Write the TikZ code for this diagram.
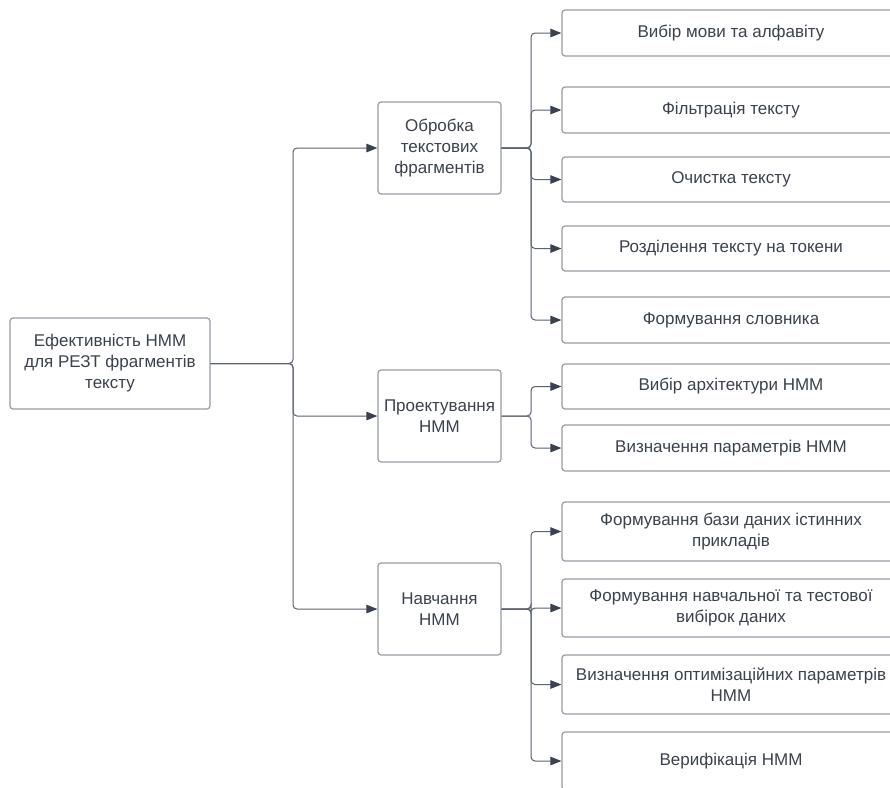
\documentclass[tikz,border=0pt]{standalone}
\usepackage{fontspec}
\setmainfont{Liberation Sans}
\usetikzlibrary{arrows.meta}
\definecolor{txt}{HTML}{3B424E}
\definecolor{bord}{HTML}{979CA5}
\definecolor{lin}{HTML}{5A6170}
\definecolor{tipc}{HTML}{3A4150}
\tikzset{
  box/.style={draw=bord, line width=1.2pt, rounded corners=3pt, fill=white, text=txt,
    align=center, inner sep=0pt, font=\fontsize{17}{21}\selectfont},
  conn/.style={draw=lin, line width=1pt, rounded corners=4pt,
    -{Triangle[length=11pt,width=8.5pt,color=tipc]}},
}
\begin{document}
\begin{tikzpicture}[x=1pt,y=-1pt]
\useasboundingbox (0,0) rectangle (890,787);
\begin{scope}
\clip (0,0) rectangle (890,787);
% root
\node[box, minimum width=200pt, minimum height=91pt] (root) at (110,363.5)
  {Ефективність НММ\\для РЕЗТ фрагментів\\тексту};
% middle
\node[box, minimum width=123pt, minimum height=92pt] (obr) at (439.5,148)
  {Обробка\\текстових\\фрагментів};
\node[box, minimum width=123pt, minimum height=92pt] (pro) at (439.5,416)
  {Проектування\\НММ};
\node[box, minimum width=123pt, minimum height=92pt] (nav) at (439.5,609)
  {Навчання\\НММ};
% right
\node[box, minimum width=338pt, minimum height=46pt] (r1) at (731,33) {Вибір мови та алфавіту};
\node[box, minimum width=338pt, minimum height=46pt] (r2) at (731,110) {Фільтрація тексту};
\node[box, minimum width=338pt, minimum height=45pt] (r3) at (731,179.5) {Очистка тексту};
\node[box, minimum width=338pt, minimum height=45pt] (r4) at (731,248.5) {Розділення тексту на токени};
\node[box, minimum width=338pt, minimum height=46pt] (r5) at (731,320) {Формування словника};
\node[box, minimum width=338pt, minimum height=45pt] (p1) at (731,386.5) {Вибір архітектури НММ};
\node[box, minimum width=338pt, minimum height=46pt] (p2) at (731,448) {Визначення параметрів НММ};
\node[box, minimum width=338pt, minimum height=59pt] (n1) at (731,531.5) {Формування бази даних істинних\\прикладів};
\node[box, minimum width=338pt, minimum height=58pt] (n2) at (731,608) {Формування навчальної та тестової\\вибірок даних};
\node[box, minimum width=338pt, minimum height=59pt] (n3) at (731,684.5) {Визначення оптимізаційних параметрів\\НММ};
\node[box, minimum width=338pt, minimum height=58pt] (n4) at (731,761) {Верифікація НММ};
% junctions
\coordinate (j0) at (293,363.5);
\coordinate (j1) at (531,148);
\coordinate (j2) at (531,416);
\coordinate (j3) at (531,609);
% connectors
\foreach \t in {obr,pro,nav} \draw[conn] (root.east) -- (j0) |- (\t.west);
\foreach \t in {r1,r2,r3,r4,r5} \draw[conn] (obr.east) -- (j1) |- (\t.west);
\foreach \t in {p1,p2} \draw[conn] (pro.east) -- (j2) |- (\t.west);
\foreach \t in {n1,n2,n3,n4} \draw[conn] (nav.east) -- (j3) |- (\t.west);
\end{scope}
\end{tikzpicture}
\end{document}
